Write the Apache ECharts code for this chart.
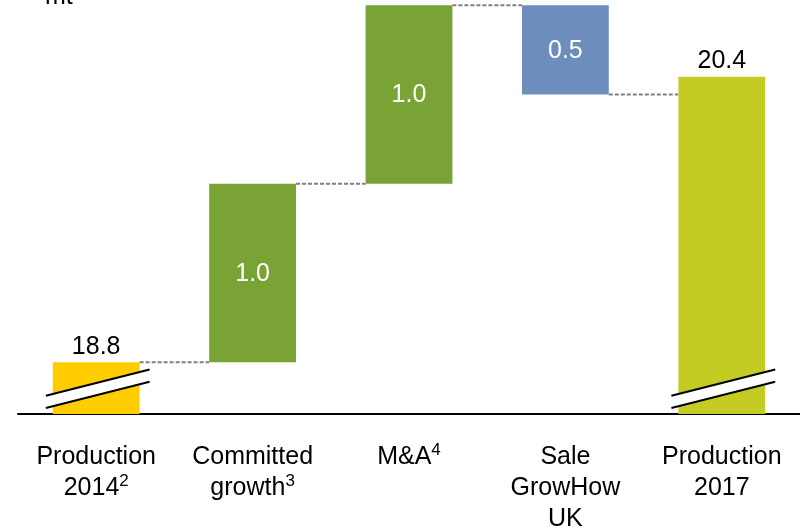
<!DOCTYPE html>
<html>
<head>
<meta charset="utf-8">
<script src="https://cdn.jsdelivr.net/npm/echarts@6/dist/echarts.min.js"></script>
<style>
  html, body { margin: 0; padding: 0; background: #fff; }
  #chart { width: 800px; height: 532px; }
</style>
</head>
<body>
<div id="chart"></div>
<script>
// Production bridge 2014 -> 2017, in million tonnes
const categories = ['Production\n2014²', 'Committed\ngrowth³', 'M&A⁴', 'Sale\nGrowHow\nUK', 'Production\n2017'];
const steps = [18.8, 1.0, 1.0, -0.5, 20.4];
const isTotal = [true, false, false, false, true];
const unitLabel = 'mt';

const barColors = ['#FFCC00', '#7AA335', '#7AA335', '#6D8EBD', '#C4CC23'];
const FONT = '"Liberation Sans", Arial, Helvetica, sans-serif';
const FS = 25;
const AXIS_MIN = 18.51;
const AXIS_MAX = 20.83;

// superscript footnote markers are drawn as small raised text
const SUP = { '²': '2', '³': '3', '⁴': '4' };
function withSup(s) {
  return s.replace(/[²³⁴]/g, m => '{sup|' + SUP[m] + '}');
}

// floating bars: [index, low, high, step, running level after the bar]
let level = AXIS_MIN;
const rows = steps.map((v, i) => {
  let lo, hi;
  if (isTotal[i]) {
    lo = AXIS_MIN; hi = v; level = v;
  } else {
    lo = Math.min(level, level + v);
    hi = Math.max(level, level + v);
    level = level + v;
  }
  return [i, lo, hi, v, level];
});

function renderItem(params, api) {
  const i = api.value(0);
  const lo = api.value(1);
  const hi = api.value(2);
  const v = api.value(3);
  const end = api.value(4);
  const band = api.size([1, 0])[0];
  const w = band * 0.555;
  const pTop = api.coord([i, hi]);
  const pBot = api.coord([i, lo]);
  const x = pTop[0] - w / 2;
  const children = [{
    type: 'rect',
    shape: { x: x, y: pTop[1], width: w, height: pBot[1] - pTop[1] },
    style: { fill: barColors[i] }
  }];

  // dashed connector to the next bar
  if (i < steps.length - 1) {
    const yEnd = api.coord([i, end])[1];
    const nx = api.coord([i + 1, end])[0] - w / 2;
    children.push({
      type: 'line',
      shape: { x1: x + w, y1: yEnd, x2: nx, y2: yEnd },
      style: { stroke: '#808080', lineWidth: 2, lineDash: [4, 2] }
    });
  }

  const txt = Math.abs(v).toFixed(1);
  if (isTotal[i]) {
    children.push({
      type: 'text',
      x: pTop[0], y: pTop[1] - 3,
      style: { text: txt, font: FS + 'px ' + FONT, fill: '#000', align: 'center', verticalAlign: 'bottom' }
    });
    // axis-break symbol across the foot of the bar
    const yb = pBot[1];
    const x0 = x - 7, x1 = x + w + 10;
    children.push({
      type: 'polygon',
      shape: { points: [[x0, yb - 6], [x1, yb - 32.3], [x1, yb - 44.5], [x0, yb - 18.2]] },
      style: { fill: '#fff' }
    });
    children.push({
      type: 'line',
      shape: { x1: x0, y1: yb - 6, x2: x1, y2: yb - 32.3 },
      style: { stroke: '#000', lineWidth: 2 }
    });
    children.push({
      type: 'line',
      shape: { x1: x0, y1: yb - 18.2, x2: x1, y2: yb - 44.5 },
      style: { stroke: '#000', lineWidth: 2 }
    });
  } else {
    children.push({
      type: 'text',
      x: pTop[0], y: (pTop[1] + pBot[1]) / 2 + 1,
      style: { text: txt, font: FS + 'px ' + FONT, fill: '#fff', align: 'center', verticalAlign: 'middle' }
    });
  }
  return { type: 'group', children: children };
}

const chart = echarts.init(document.getElementById('chart'), null, { renderer: 'canvas' });
chart.setOption({
  animation: false,
  backgroundColor: '#fff',
  grid: { left: 18, right: 0, top: 0, bottom: 118, containLabel: false, outerBoundsMode: 'none' },
  xAxis: {
    type: 'category',
    data: categories,
    axisLine: { onZero: false, lineStyle: { color: '#000', width: 2 } },
    axisTick: { show: false },
    axisLabel: {
      interval: 0,
      margin: 28,
      color: '#000',
      fontSize: FS,
      lineHeight: 31,
      fontFamily: FONT,
      align: 'center',
      formatter: withSup,
      rich: {
        sup: { fontSize: 17, lineHeight: 24, verticalAlign: 'top', color: '#000', fontFamily: FONT }
      }
    },
    splitLine: { show: false }
  },
  yAxis: {
    type: 'value',
    min: AXIS_MIN,
    max: AXIS_MAX,
    show: false,
    splitLine: { show: false }
  },
  graphic: [{
    type: 'text',
    x: 45, y: -15,
    style: { text: unitLabel, font: FS + 'px ' + FONT, fill: '#000', verticalAlign: 'top' }
  }],
  series: [{
    type: 'custom',
    renderItem: renderItem,
    encode: { x: 0, y: [1, 2] },
    data: rows,
    z: 3
  }]
});
</script>
</body>
</html>
